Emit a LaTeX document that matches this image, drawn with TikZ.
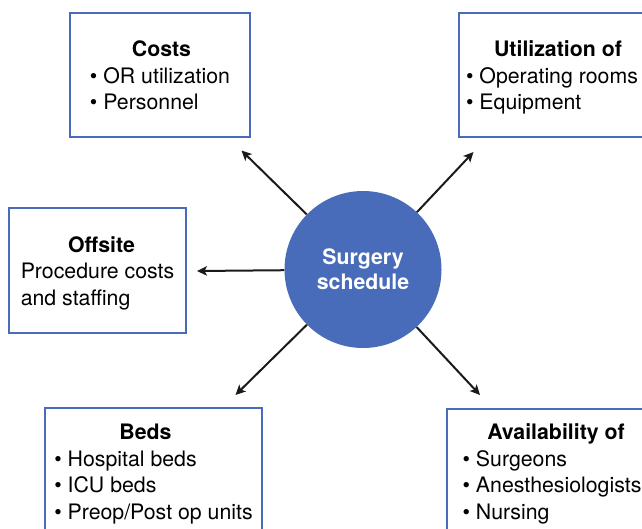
\documentclass[tikz,border=0pt]{standalone}
\usepackage{fontspec}
\setmainfont{TeX Gyre Heros}
\usetikzlibrary{arrows.meta}
\definecolor{schedblue}{RGB}{73,108,186}
\definecolor{arrowink}{RGB}{26,26,26}
% bold heading over a left-aligned block of lines; the optional argument
% nudges the heading sideways, the rule adds a little head room
\newcommand{\boxtext}[3][0pt]{\begin{tabular}{@{}l@{}}\multicolumn{1}{@{}c@{}}{\rule{0pt}{24pt}\hspace*{#1}\textbf{#2}\hspace*{-#1}}\\#3\end{tabular}}
\begin{document}
\begin{tikzpicture}[x=1pt,y=-1pt,
  every node/.style={font=\fontsize{21.3}{26.5}\selectfont},
  infobox/.style={draw=schedblue, line width=2.7pt, fill=white, inner sep=0pt},
  hub/.style={circle, fill=schedblue, text=white, font=\fontsize{21.3}{25}\selectfont\bfseries,
    align=center, minimum size=157pt, inner sep=0pt},
  link/.style={draw=arrowink, line width=2pt, -{Stealth[length=10pt,width=9.5pt,inset=2.5pt]}}]
  \useasboundingbox (0,0) rectangle (642,528);
  \fill[white] (0,0) rectangle (642,528);
  \clip (0,0) rectangle (642,528);

  % surrounding factor boxes
  \node[infobox, minimum width=180pt, minimum height=124pt] (costs) at (160,75)
    {\boxtext[1.5pt]{Costs}{\textbullet\ OR utilization\\\textbullet\ Personnel}};
  \node[infobox, minimum width=186pt, minimum height=124pt] (util) at (552,75)
    {\boxtext[6pt]{Utilization of}{\textbullet\ Operating rooms\\\textbullet\ Equipment}};
  \node[infobox, minimum width=177pt, minimum height=125pt] (offsite) at (97.5,270.5)
    {\boxtext[4pt]{Offsite}{Procedure costs\\and staffing}};
  \node[infobox, minimum width=217pt, minimum height=127.4pt] (beds) at (153.5,471.7)
    {\boxtext[-8pt]{Beds}{\textbullet\ Hospital beds\\\textbullet\ ICU beds\\\textbullet\ Preop/Post op units}};
  \node[infobox, minimum width=210pt, minimum height=125.4pt] (avail) at (552,471.7)
    {\boxtext[4pt]{Availability of}{\textbullet\ Surgeons\\\textbullet\ Anesthesiologists\\\textbullet\ Nursing}};

  % central hub
  \node[hub] (sched) at (363,269.5) {Surgery\\schedule};

  % arrow end points, just short of each box
  \coordinate (costsTip) at (241.5,150.5);
  \coordinate (utilTip) at (473.5,152);
  \coordinate (offsiteTip) at (197,271);
  \coordinate (bedsTip) at (235.5,395);
  \coordinate (availTip) at (480,395);

  \draw[link] (sched) -- (costsTip);
  \draw[link] (sched) -- (utilTip);
  \draw[link] (sched) -- (offsiteTip);
  \draw[link] (sched) -- (bedsTip);
  \draw[link] (sched) -- (availTip);
\end{tikzpicture}
\end{document}
